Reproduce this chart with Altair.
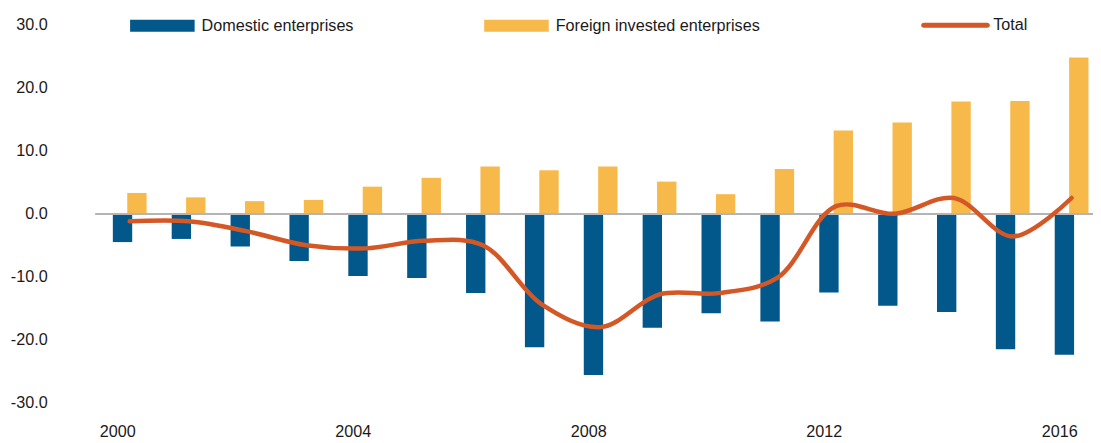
import altair as alt
import pandas as pd

years = list(range(2000, 2017))
domestic = [-4.5, -4.0, -5.2, -7.5, -9.9, -10.2, -12.6, -21.2, -25.6, -18.1, -15.8, -17.1, -12.5, -14.6, -15.6, -21.5, -22.4]
foreign = [3.3, 2.6, 2.0, 2.2, 4.3, 5.7, 7.5, 6.9, 7.5, 5.1, 3.1, 7.1, 13.2, 14.5, 17.8, 17.9, 24.8]
total = [-1.2, -1.2, -2.8, -5.0, -5.5, -4.3, -5.0, -14.4, -18.0, -12.8, -12.6, -10.2, 1.2, 0.0, 2.5, -3.6, 2.5]
x_ticks = [2000, 2004, 2008, 2012, 2016]
y_ticks = [-30, -20, -10, 0, 10, 20, 30]
series_names = ["Domestic enterprises", "Foreign invested enterprises", "Total"]

BLUE = "#02578b"
YELLOW = "#f8b94b"
ORANGE = "#d45726"
FONT = "Liberation Sans, Arial, sans-serif"
FS = 16.3
TXT = "#1a1a1a"

df_dom = pd.DataFrame({"year": years, "value": domestic, "series": series_names[0]})
df_for = pd.DataFrame({"year": years, "value": foreign, "series": series_names[1]})
df_tot = pd.DataFrame({"year": years, "value": total, "series": series_names[2]})

x_enc = alt.X(
    "year:Q",
    scale=alt.Scale(domain=[1999.51, 2016.28], nice=False, zero=False),
    axis=alt.Axis(values=x_ticks, format="d", grid=False, domain=False, ticks=False,
                  labelPadding=21, labelOffset=-12.5, title=None, labelFlush=False,
                  labelOverlap=False, labelFontSize=FS, labelFont=FONT, labelColor=TXT),
)
y_enc = alt.Y(
    "value:Q",
    scale=alt.Scale(domain=[-30, 30], nice=False),
    axis=alt.Axis(values=y_ticks, grid=False, domain=False, ticks=False,
                  labelExpr="datum.value < 0 ? '-' + format(-datum.value, '.1f') : format(datum.value, '.1f')",
                  labelPadding=49, title=None, labelFontSize=FS, labelFont=FONT,
                  labelColor=TXT),
)

RECT = "M-1,-0.185H1V0.185H-1Z"
CAPSULE = "M-1,-0.08H1A0.08,0.08 0 0 1 1,0.08H-1A0.08,0.08 0 0 1 -1,-0.08Z"


def bar_legend(x):
    return alt.Legend(orient="none", legendX=x, legendY=-31.5, title=None,
                      symbolType=RECT, symbolSize=4225, symbolStrokeWidth=0,
                      labelFontSize=FS, labelFont=FONT, labelColor=TXT,
                      labelOffset=7, labelLimit=400, padding=0)


dom = alt.Chart(df_dom).mark_bar(width=19.5, xOffset=-7.2).encode(
    x=x_enc, y=y_enc,
    fill=alt.Fill("series:N", scale=alt.Scale(domain=[series_names[0]], range=[BLUE]),
                  legend=bar_legend(34.5)),
)
fore = alt.Chart(df_for).mark_bar(width=19.5, xOffset=7.3).encode(
    x=x_enc, y=y_enc,
    fill=alt.Fill("series:N", scale=alt.Scale(domain=[series_names[1]], range=[YELLOW]),
                  legend=bar_legend(391.2)),
)
zero = alt.Chart(df_dom).mark_rule(color="#b4b4b4", strokeWidth=1.5).encode(
    y=alt.datum(0)
)
line = alt.Chart(df_tot).mark_line(interpolate="catmull-rom", strokeWidth=4.5,
                                   strokeCap="round").encode(
    x=x_enc, y=y_enc,
    stroke=alt.Stroke("series:N", scale=alt.Scale(domain=[series_names[2]], range=[ORANGE]),
                      legend=alt.Legend(orient="none", legendX=834, legendY=-31.5,
                                        title=None, symbolType=CAPSULE, symbolSize=4096,
                                        symbolStrokeWidth=0, symbolFillColor=ORANGE,
                                        labelFontSize=FS, labelFont=FONT, labelColor=TXT,
                                        labelOffset=6, labelLimit=400, padding=0)),
)

chart = alt.layer(dom, fore, zero, line).resolve_scale(
    fill="independent", stroke="independent"
).properties(
    width=1004.5, height=380.7,
    autosize=alt.AutoSizeParams(type="none"),
    padding={"left": 88.5, "top": 15.3, "right": 0, "bottom": 39},
    background="white",
).configure_view(stroke=None, strokeWidth=0)

chart.save("out.html", embed_options={"renderer": "svg", "actions": False})
